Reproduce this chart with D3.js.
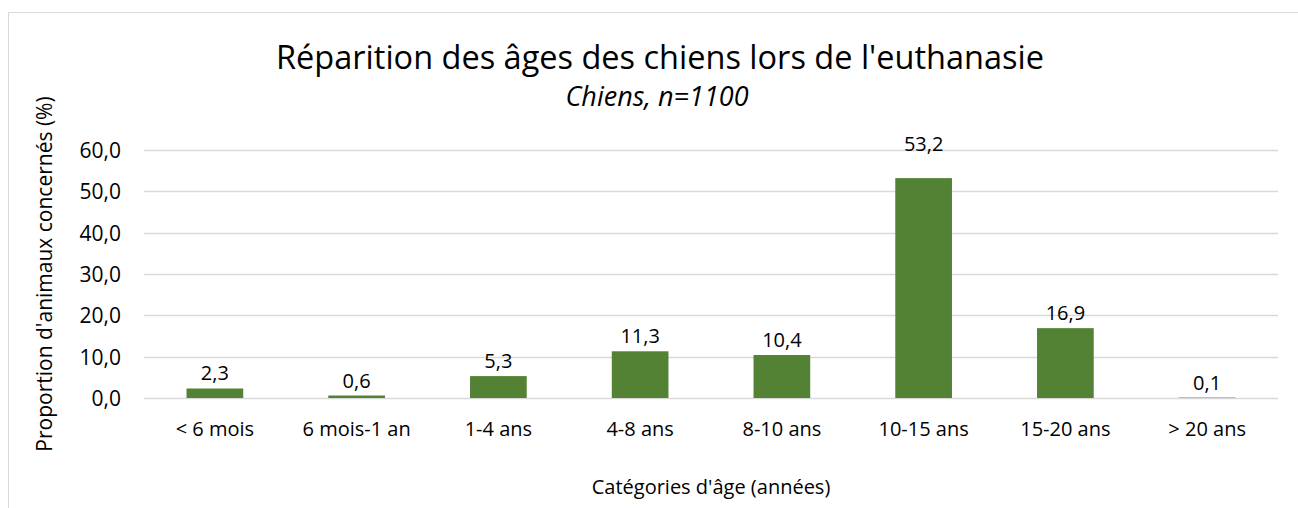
<!DOCTYPE html>
<html>
<head>
<meta charset="utf-8">
<script src="https://cdn.jsdelivr.net/npm/d3@7"></script>
<style>
  body { margin: 0; background: #fff; }
  text { font-family: 'Open Sans', sans-serif; fill: #000; }
</style>
</head>
<body>
<svg id="chart" width="1298" height="508"></svg>
<script>
const categories = ['< 6 mois', '6 mois-1 an', '1-4 ans', '4-8 ans', '8-10 ans', '10-15 ans', '15-20 ans', '> 20 ans'];
const values = [2.3, 0.6, 5.3, 11.3, 10.4, 53.2, 16.9, 0.1];
const yTicks = [0, 10, 20, 30, 40, 50, 60];

const TITLE = "Réparition des âges des chiens lors de l'euthanasie";
const SUBTITLE = 'Chiens, n=1100';
const X_TITLE = "Catégories d'âge (années)";
const Y_TITLE = "Proportion d'animaux concernés (%)";

const svg = d3.select('#chart');
const margin = { left: 144, right: 1278, top: 150, bottom: 398 };
const fmt = (v) => v.toFixed(1).replace('.', ',');

// frame
svg.append('rect')
  .attr('x', 8.5).attr('y', 12.5)
  .attr('width', 1300).attr('height', 510)
  .attr('fill', 'none')
  .attr('stroke', '#d9d9d9');

const x = d3.scaleBand()
  .domain(categories)
  .range([margin.left, margin.right])
  .paddingInner(0.6)
  .paddingOuter(0.3);

const y = d3.scaleLinear()
  .domain([0, 60])
  .range([margin.bottom, margin.top]);

// gridlines
svg.append('g')
  .selectAll('line')
  .data(yTicks)
  .enter()
  .append('line')
  .attr('x1', margin.left)
  .attr('x2', margin.right)
  .attr('y1', (d) => Math.round(y(d)) + 0.5)
  .attr('y2', (d) => Math.round(y(d)) + 0.5)
  .attr('stroke', '#d9d9d9')
  .attr('stroke-width', 1.5);

// y axis labels
const yAxis = svg.append('g')
  .attr('transform', `translate(${margin.left - 23}, 0)`)
  .call(d3.axisLeft(y).tickValues(yTicks).tickFormat(fmt).tickSize(0).tickPadding(0));
yAxis.select('.domain').remove();
yAxis.selectAll('text')
  .style('font-family', "'Open Sans', sans-serif")
  .style('font-size', '21px')
  .attr('dy', '0.35em');

// x axis labels
const xAxis = svg.append('g')
  .attr('transform', `translate(0, ${margin.bottom})`)
  .call(d3.axisBottom(x).tickSize(0).tickPadding(24));
xAxis.select('.domain').remove();
xAxis.selectAll('text')
  .style('font-family', "'Open Sans', sans-serif")
  .style('font-size', '20px');

// bars
svg.append('g')
  .selectAll('rect')
  .data(values)
  .enter()
  .append('rect')
  .attr('x', (d, i) => x(categories[i]))
  .attr('width', x.bandwidth())
  .attr('y', (d) => y(d))
  .attr('height', (d) => y(0) - y(d))
  .attr('fill', '#548235');

// data labels (the 10-15 ans label sits a bit higher in the original)
svg.append('g')
  .selectAll('text')
  .data(values)
  .enter()
  .append('text')
  .attr('x', (d, i) => x(categories[i]) + x.bandwidth() / 2)
  .attr('y', (d, i) => y(d) - (i === 5 ? 27 : 8))
  .attr('text-anchor', 'middle')
  .style('font-size', '20px')
  .text(fmt);

// titles
svg.append('text')
  .attr('x', 660).attr('y', 69)
  .attr('text-anchor', 'middle')
  .style('font-size', '32.5px')
  .text(TITLE);

svg.append('text')
  .attr('x', 657).attr('y', 106)
  .attr('text-anchor', 'middle')
  .style('font-size', '27px')
  .style('font-style', 'italic')
  .text(SUBTITLE);

svg.append('text')
  .attr('x', 711).attr('y', 494)
  .attr('text-anchor', 'middle')
  .style('font-size', '20px')
  .text(X_TITLE);

svg.append('text')
  .attr('transform', 'translate(52, 274) rotate(-90)')
  .attr('text-anchor', 'middle')
  .style('font-size', '21px')
  .text(Y_TITLE);
</script>
</body>
</html>
